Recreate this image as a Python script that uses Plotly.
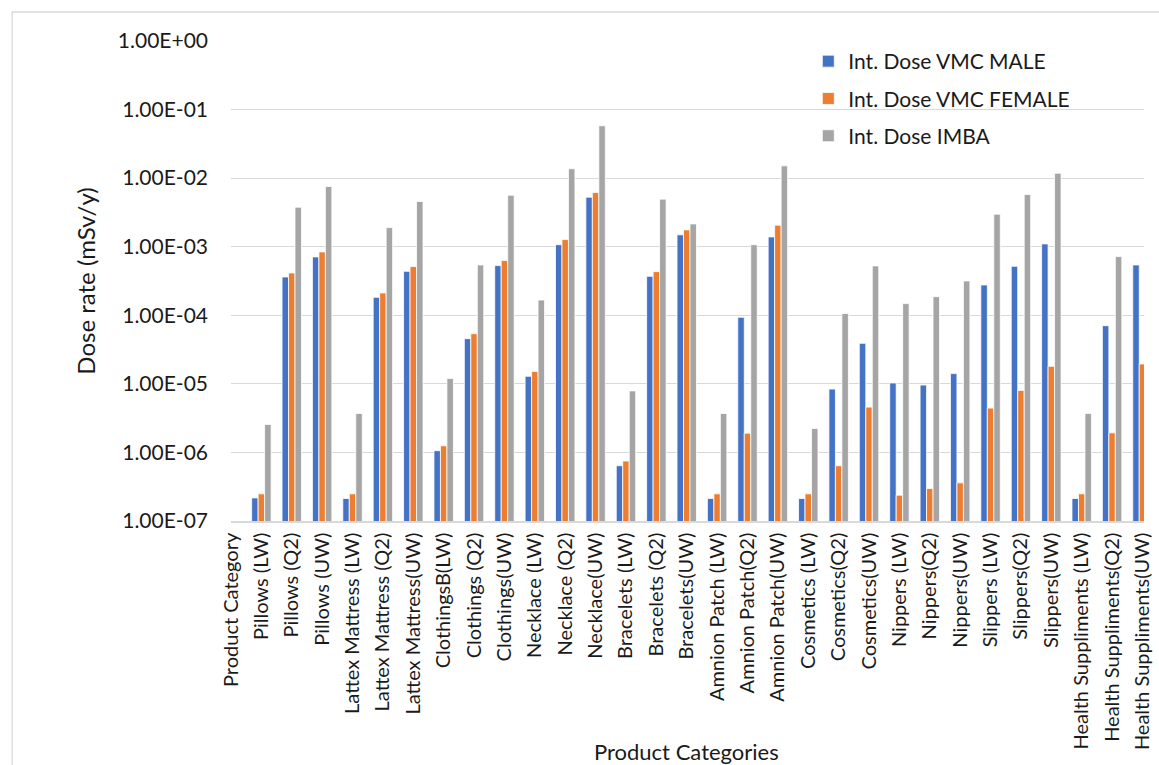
import plotly.graph_objects as go

# Product categories along the x axis (first slot is the header row label, no data)
categories = [
    "Product Category",
    "Pillows (LW)", "Pillows (Q2)", "Pillows (UW)",
    "Lattex Mattress (LW)", "Lattex Mattress (Q2)", "Lattex Mattress(UW)",
    "ClothingsB(LW)", "Clothings (Q2)", "Clothings(UW)",
    "Necklace (LW)", "Necklace (Q2)", "Necklace(UW)",
    "Bracelets (LW)", "Bracelets (Q2)", "Bracelets(UW)",
    "Amnion Patch (LW)", "Amnion Patch(Q2)", "Amnion Patch(UW)",
    "Cosmetics (LW)", "Cosmetics(Q2)", "Cosmetics(UW)",
    "Nippers (LW)", "Nippers(Q2)", "Nippers(UW)",
    "Slippers (LW)", "Slippers(Q2)", "Slippers(UW)",
    "Health Suppliments (LW)", "Health Suppliments(Q2)", "Health Suppliments(UW)",
]

# Internal dose (mSv/y)
dose_vmc_male = [
    None,
    2.17e-7, 3.62e-4, 7.1e-4,
    2.13e-7, 1.83e-4, 4.38e-4,
    1.06e-6, 4.56e-5, 5.3e-4,
    1.29e-5, 1.07e-3, 5.28e-3,
    6.4e-7, 3.7e-4, 1.49e-3,
    2.13e-7, 9.35e-5, 1.39e-3,
    2.13e-7, 8.4e-6, 3.9e-5,
    1.03e-5, 9.6e-6, 1.41e-5,
    2.77e-4, 5.19e-4, 1.1e-3,
    2.13e-7, 7.05e-5, 5.42e-4,
]

dose_vmc_female = [
    None,
    2.49e-7, 4.14e-4, 8.4e-4,
    2.49e-7, 2.12e-4, 5.13e-4,
    1.25e-6, 5.39e-5, 6.28e-4,
    1.52e-5, 1.27e-3, 6.17e-3,
    7.5e-7, 4.33e-4, 1.76e-3,
    2.49e-7, 1.91e-6, 2.06e-3,
    2.49e-7, 6.4e-7, 4.58e-6,
    2.38e-7, 2.98e-7, 3.6e-7,
    4.43e-6, 8.03e-6, 1.8e-5,
    2.49e-7, 1.93e-6, 1.95e-5,
]

dose_imba = [
    None,
    2.56e-6, 3.77e-3, 7.55e-3,
    3.7e-6, 1.9e-3, 4.56e-3,
    1.2e-5, 5.42e-4, 5.64e-3,
    1.67e-4, 1.37e-2, 5.8e-2,
    7.9e-6, 4.94e-3, 2.15e-3,
    3.7e-6, 1.07e-3, 1.51e-2,
    2.24e-6, 1.06e-4, 5.25e-4,
    1.48e-4, 1.87e-4, 3.17e-4,
    2.98e-3, 5.77e-3, 1.18e-2,
    3.7e-6, 7.17e-4, None,
]

series_names = ["Int. Dose VMC MALE", "Int. Dose VMC FEMALE", "Int. Dose IMBA"]
series_colors = ["#4472C4", "#ED7D31", "#A5A5A5"]

y_tick_values = [1e-7, 1e-6, 1e-5, 1e-4, 1e-3, 1e-2, 1e-1, 1e0]
y_tick_labels = ["1.00E-07", "1.00E-06", "1.00E-05", "1.00E-04",
                 "1.00E-03", "1.00E-02", "1.00E-01", "1.00E+00"]

FONT = "Lato"
TEXT = "#1a1a1a"

fig = go.Figure()
for i, (name, vals, col) in enumerate(zip(series_names,
                                          [dose_vmc_male, dose_vmc_female, dose_imba],
                                          series_colors)):
    fig.add_trace(go.Bar(
        x=categories, y=vals, name=name, legendgroup=f"g{i}",
        marker=dict(color=col, line=dict(color="white", width=0.8)),
    ))

W, H = 1159, 765
L, R, T, B = 231, 6, 41, 244
pw = W - L - R
ph = H - T - B

def px_x(x):
    return (x - L) / pw

def px_y(y):
    return (H - B - y) / ph

fig.update_layout(
    width=W, height=H,
    margin=dict(l=L, r=R, t=T, b=B),
    paper_bgcolor="white", plot_bgcolor="white",
    barmode="group", bargap=0.36, bargroupgap=0.0,
    font=dict(family=FONT, size=20, color=TEXT),
    showlegend=True,
    legend=dict(
        x=px_x(814), y=px_y(41), xanchor="left", yanchor="top",
        font=dict(family=FONT, size=21, color=TEXT),
        traceorder="grouped", tracegroupgap=7,
        bgcolor="rgba(0,0,0,0)", itemwidth=30,
    ),
    xaxis=dict(
        type="category", range=[0, 30.05],
        tickangle=-90, tickfont=dict(family=FONT, size=20, color=TEXT),
        showgrid=False, showline=True, linecolor="#D9D9D9", linewidth=1.5,
        ticks="", ticklabelstandoff=2,
    ),
    yaxis=dict(
        type="log", range=[-7, 0],
        tickvals=y_tick_values, ticktext=y_tick_labels,
        tickfont=dict(family=FONT, size=21, color=TEXT),
        showgrid=True, gridcolor="#D9D9D9", gridwidth=1.3,
        showline=False, zeroline=False, ticks="", ticklabelstandoff=22,
        title=dict(text="Dose rate (mSv/y)",
                   font=dict(family=FONT, size=24, color=TEXT), standoff=15),
    ),
    annotations=[dict(
        text="Product Categories", xref="paper", yref="paper",
        x=px_x(691), y=px_y(751), xanchor="center", yanchor="middle",
        showarrow=False, font=dict(family=FONT, size=22, color=TEXT),
    )],
    shapes=[dict(
        type="rect", xref="paper", yref="paper",
        x0=px_x(10), x1=px_x(1400), y0=px_y(900), y1=px_y(12),
        line=dict(color="#D9D9D9", width=1.3), fillcolor="rgba(0,0,0,0)",
        layer="below",
    )],
)

fig.write_html("out.html")
